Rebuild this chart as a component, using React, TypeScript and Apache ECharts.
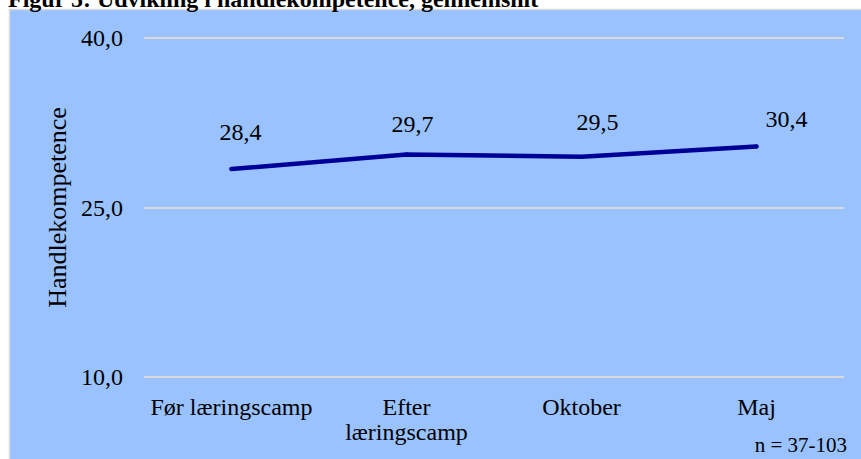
import React, { useEffect, useRef } from "react";
import * as echarts from "echarts";

const categories = ["Før læringscamp", "Efter\nlæringscamp", "Oktober", "Maj"];
const values = [28.4, 29.7, 29.5, 30.4];
const yTicks = [10, 25, 40];
const titleText = "Figur 5: Udvikling i handlekompetence, gennemsnit";
const yAxisName = "Handlekompetence";
const noteText = "n = 37-103";

const FONT = "'Liberation Serif', 'Times New Roman', serif";
// manual label nudges (pixels), as placed in the original
const labelNudges: [number, number][] = [[9, 0], [6, 7], [16, 2], [30, 10]];

export default function App() {
  const ref = useRef<HTMLDivElement>(null);
  useEffect(() => {
    const chart = echarts.init(ref.current!, null, { renderer: "svg" });
    const fmt = (v: number) => v.toFixed(1).replace(".", ",");
    chart.setOption({
      animation: false,
      backgroundColor: "#ffffff",
      textStyle: { fontFamily: FONT },
      graphic: [
        {
          type: "rect",
          z: -10,
          shape: { x: 9.5, y: 9.5, width: 860, height: 460 },
          style: { fill: "#99C2FF", stroke: "#D9D9D9", lineWidth: 1.5 },
        },
        {
          type: "text",
          left: 8,
          top: -13,
          style: { text: titleText, font: `bold 24px ${FONT}`, fill: "#000" },
        },
        {
          type: "text",
          right: 14,
          top: 434,
          style: { text: noteText, font: `21px ${FONT}`, fill: "#000" },
        },
      ],
      grid: { left: 144, right: 17, top: 38, bottom: 82, containLabel: false },
      xAxis: {
        type: "category",
        data: categories,
        boundaryGap: true,
        axisLine: { show: false },
        axisTick: { show: false },
        axisLabel: {
          color: "#000",
          fontFamily: FONT,
          fontSize: 24,
          lineHeight: 25,
          margin: 17,
          interval: 0,
        },
      },
      yAxis: {
        type: "value",
        min: yTicks[0],
        max: yTicks[yTicks.length - 1],
        interval: yTicks[1] - yTicks[0],
        name: yAxisName,
        nameLocation: "middle",
        nameGap: 72,
        nameRotate: 90,
        nameTextStyle: { color: "#000", fontFamily: FONT, fontSize: 26 },
        axisLine: { show: false },
        axisTick: { show: false },
        axisLabel: {
          color: "#000",
          fontFamily: FONT,
          fontSize: 24,
          margin: 21,
          formatter: fmt,
        },
        splitLine: { lineStyle: { color: "#D9D9D9", width: 2 } },
      },
      series: [
        {
          type: "line",
          data: values.map((v, i) => ({
            value: v,
            label: { offset: labelNudges[i] },
          })),
          symbol: "circle",
          symbolSize: 4,
          showSymbol: true,
          itemStyle: { color: "#000099" },
          lineStyle: { color: "#000099", width: 4.5, cap: "round" },
          label: {
            show: true,
            position: "top",
            distance: 23,
            color: "#000",
            opacity: 1,
            fontFamily: FONT,
            fontSize: 24,
            formatter: (p: any) => fmt(Number(p.value)),
          },
        },
      ],
    });
    return () => chart.dispose();
  }, []);
  return (
    <div
      ref={ref}
      style={{ position: "absolute", left: 0, top: 0, width: 861, height: 459 }}
    />
  );
}
